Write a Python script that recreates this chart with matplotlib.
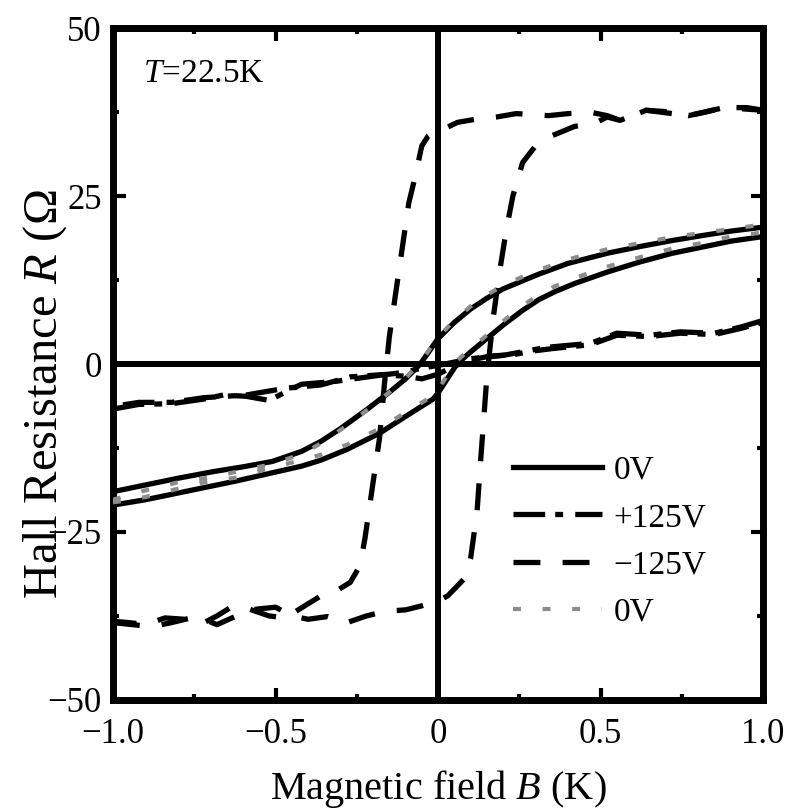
import numpy as np
import matplotlib.pyplot as plt
from matplotlib.ticker import MultipleLocator

plt.rcParams['font.family'] = 'serif'
plt.rcParams['font.serif'] = ['Liberation Serif', 'DejaVu Serif']
plt.rcParams['mathtext.fontset'] = 'custom'
plt.rcParams['mathtext.rm'] = 'Liberation Serif'
plt.rcParams['mathtext.it'] = 'Liberation Serif:italic'

# 0V, solid: upper branch (field sweeping down) and lower branch (sweeping up)
b0_up = [-1.0, -0.9, -0.8, -0.69, -0.6, -0.51, -0.42, -0.36, -0.3, -0.22, -0.15, -0.1, -0.055,
         0.0, 0.05, 0.1, 0.15, 0.2, 0.25, 0.31, 0.4, 0.52, 0.62, 0.72, 0.82, 0.9, 1.0]
r0_up = [-19.0, -18.0, -17.0, -16.0, -15.3, -14.5, -13.0, -11.5, -9.6, -6.8, -4.2, -2.2, 0.0,
         3.8, 6.2, 8.2, 9.8, 11.2, 12.2, 13.4, 15.0, 16.5, 17.5, 18.4, 19.2, 19.8, 20.4]
b0_lo = [-1.0, -0.9, -0.82, -0.72, -0.62, -0.52, -0.42, -0.36, -0.28, -0.18, -0.1, -0.015,
         0.0, 0.058, 0.1, 0.14, 0.2, 0.26, 0.31, 0.36, 0.42, 0.52, 0.62, 0.72, 0.82, 0.9, 1.0]
r0_lo = [-21.0, -20.2, -19.4, -18.4, -17.4, -16.3, -15.2, -14.3, -12.7, -10.3, -7.8, -5.2,
         -4.3, 0.0, 1.8, 3.4, 5.8, 8.0, 9.6, 10.8, 12.0, 13.7, 15.2, 16.5, 17.5, 18.3, 19.0]

# 0V, grey dotted (second run)
g0_up = [-20.2, -18.8, -17.6, -16.8, -15.8, -14.9, -13.4, -11.8, -9.8, -6.9, -4.2, -2.1, 0.2,
         4.0, 6.5, 8.6, 10.3, 11.7, 12.8, 14.0, 15.6, 17.1, 18.0, 18.9, 19.6, 20.1, 20.8]
g0_lo = [-20.6, -19.8, -18.8, -17.6, -16.9, -15.5, -14.3, -13.5, -12.0, -9.6, -7.2, -4.7,
         -3.8, 0.5, 2.3, 3.9, 6.4, 8.7, 10.3, 11.6, 12.8, 14.5, 15.9, 17.2, 18.1, 19.0, 19.6]

# +125V, dash-dot
bp_up = [1.0, 0.93, 0.85, 0.745, 0.65, 0.55, 0.47, 0.335, 0.2, 0.1, 0.05, 0.0, -0.05, -0.1,
         -0.15, -0.27, -0.36, -0.47, -0.59, -0.72, -0.82, -0.92, -1.0]
rp_up = [6.5, 5.5, 4.6, 4.8, 4.3, 4.6, 3.1, 2.5, 1.3, 0.8, 0.3, -0.2, -0.6, -1.2,
         -1.5, -1.9, -3.1, -3.6, -4.6, -5.0, -5.7, -5.7, -6.3]
bp_lo = [-1.0, -0.92, -0.82, -0.72, -0.66, -0.59, -0.52, -0.42, -0.32, -0.17, -0.1, -0.05,
         0.0, 0.05, 0.1, 0.16, 0.23, 0.3, 0.35, 0.47, 0.55, 0.65, 0.745, 0.85, 0.93, 1.0]
rp_lo = [-6.7, -6.0, -5.9, -5.2, -4.6, -4.8, -5.4, -3.0, -2.6, -1.6, -1.8, -2.2,
         -1.5, -0.3, 0.6, 1.2, 1.4, 2.0, 2.3, 2.9, 4.3, 4.1, 4.6, 4.4, 5.3, 6.2]

# -125V, dashed: square loop
bm_up = [1.0, 0.95, 0.88, 0.82, 0.77, 0.7, 0.64, 0.6, 0.56, 0.52, 0.47, 0.4, 0.34, 0.28, 0.24,
         0.18, 0.12, 0.06, 0.03, 0.0, -0.03, -0.05, -0.07, -0.09, -0.105, -0.12, -0.135, -0.15,
         -0.165, -0.18, -0.195, -0.21, -0.225, -0.24, -0.27, -0.32, -0.36, -0.42, -0.47, -0.52,
         -0.58, -0.63, -0.68, -0.72, -0.78, -0.84, -0.9, -0.95, -1.0]
rm_up = [37.8, 38.2, 38.2, 37.5, 37.0, 37.6, 37.8, 37.0, 36.3, 37.0, 37.5, 37.3, 37.0, 37.2, 37.3,
         36.8, 36.5, 36.0, 35.3, 35.0, 34.0, 32.5, 28.0, 24.0, 19.0, 14.0, 9.0, 4.0,
         -3.0, -11.0, -16.0, -21.0, -26.0, -30.0, -32.5, -34.0, -34.5, -36.3, -37.8, -37.5,
         -36.5, -36.0, -37.5, -38.5, -38.0, -37.8, -38.8, -38.5, -38.3]
bm_lo = [-1.0, -0.94, -0.88, -0.82, -0.76, -0.72, -0.68, -0.62, -0.56, -0.5, -0.45, -0.4, -0.34,
         -0.28, -0.22, -0.16, -0.1, -0.05, 0.0, 0.03, 0.06, 0.08, 0.1, 0.12, 0.13, 0.15, 0.17,
         0.19, 0.21, 0.23, 0.26, 0.3, 0.35, 0.42, 0.48, 0.52, 0.56, 0.64, 0.77, 0.88, 1.0]
rm_lo = [-38.5, -38.8, -39.1, -38.5, -37.8, -38.0, -38.8, -37.5, -36.5, -36.2, -37.5, -38.0, -37.6,
         -38.5, -37.5, -36.8, -36.6, -36.0, -35.3, -34.5, -33.0, -32.0, -29.0, -22.0, -15.0, -2.0, 7.0,
         14.0, 20.0, 25.0, 30.0, 32.5, 34.0, 35.4, 35.8, 36.8, 36.3, 37.8, 37.0, 38.2, 37.8]

fig = plt.figure(figsize=(7.9, 8.1), dpi=100)
ax = fig.add_axes([0.143, 0.136, 0.823, 0.829])

ax.axhline(0, color='black', lw=4.3, zorder=1)
ax.axvline(0, color='black', lw=4.3, zorder=1)

lw = 3.8
ax.plot(b0_up, r0_up, color='black', lw=lw, label='0V', zorder=3)
ax.plot(b0_lo, r0_lo, color='black', lw=lw, zorder=3)
ax.plot(bp_up, rp_up, color='black', lw=lw, dashes=(6, 1.9, 1.5, 2.3), label='+125V', zorder=3)
ax.plot(bp_lo, rp_lo, color='black', lw=lw, dashes=(6, 1.9, 1.5, 2.3), zorder=3)
ax.plot(bm_up, rm_up, color='black', lw=lw, dashes=(5.1, 4.2), label='\u2212125V', zorder=3)
ax.plot(bm_lo, rm_lo, color='black', lw=lw, dashes=(5.1, 4.2), zorder=3)
ax.plot(b0_up, g0_up, color='#8c8c8c', lw=3, dashes=(1.9, 5.2), label='0V', zorder=4)
ax.plot(b0_lo, g0_lo, color='#8c8c8c', lw=3, dashes=(1.9, 5.2), zorder=4)

ax.set_xlim(-1, 1)
ax.set_ylim(-50, 50)
ax.xaxis.set_minor_locator(MultipleLocator(0.25))
ax.yaxis.set_minor_locator(MultipleLocator(12.5))
ax.set_xticks([-1, -0.5, 0, 0.5, 1])
ax.set_xticklabels(['\u22121.0', '\u22120.5', '0', '0.5', '1.0'])
ax.set_yticks([-50, -25, 0, 25, 50])
ax.set_yticklabels(['\u221250', '\u221225', '0', '25', '50'])
ax.tick_params(which='both', direction='in', top=True, right=True, width=3, labelsize=25)
ax.tick_params(which='major', length=9)
ax.tick_params(axis='x', which='major', pad=13)
ax.tick_params(axis='y', which='major', pad=8)
ax.tick_params(which='minor', length=4.5)
for s in ax.spines.values():
    s.set_linewidth(5)

ax.set_xlabel('Magnetic field $B$ (K)', fontsize=29)
ax.xaxis.set_label_coords(0.5, -0.101)
ax.set_ylabel('Hall Resistance $R$ ($\\Omega$', fontsize=35)
ax.yaxis.set_label_coords(-0.067, 0.455)

ax.text(0.046, 0.955, '$T$=22.5K', transform=ax.transAxes, fontsize=24, va='top', ha='left')

ax.legend(loc='upper left', bbox_to_anchor=(0.615, 0.364), frameon=False, fontsize=24,
          handlelength=2.67, handletextpad=0.36, labelspacing=0.5, borderpad=0,
          borderaxespad=0)

fig.savefig('out.png', dpi=100)
